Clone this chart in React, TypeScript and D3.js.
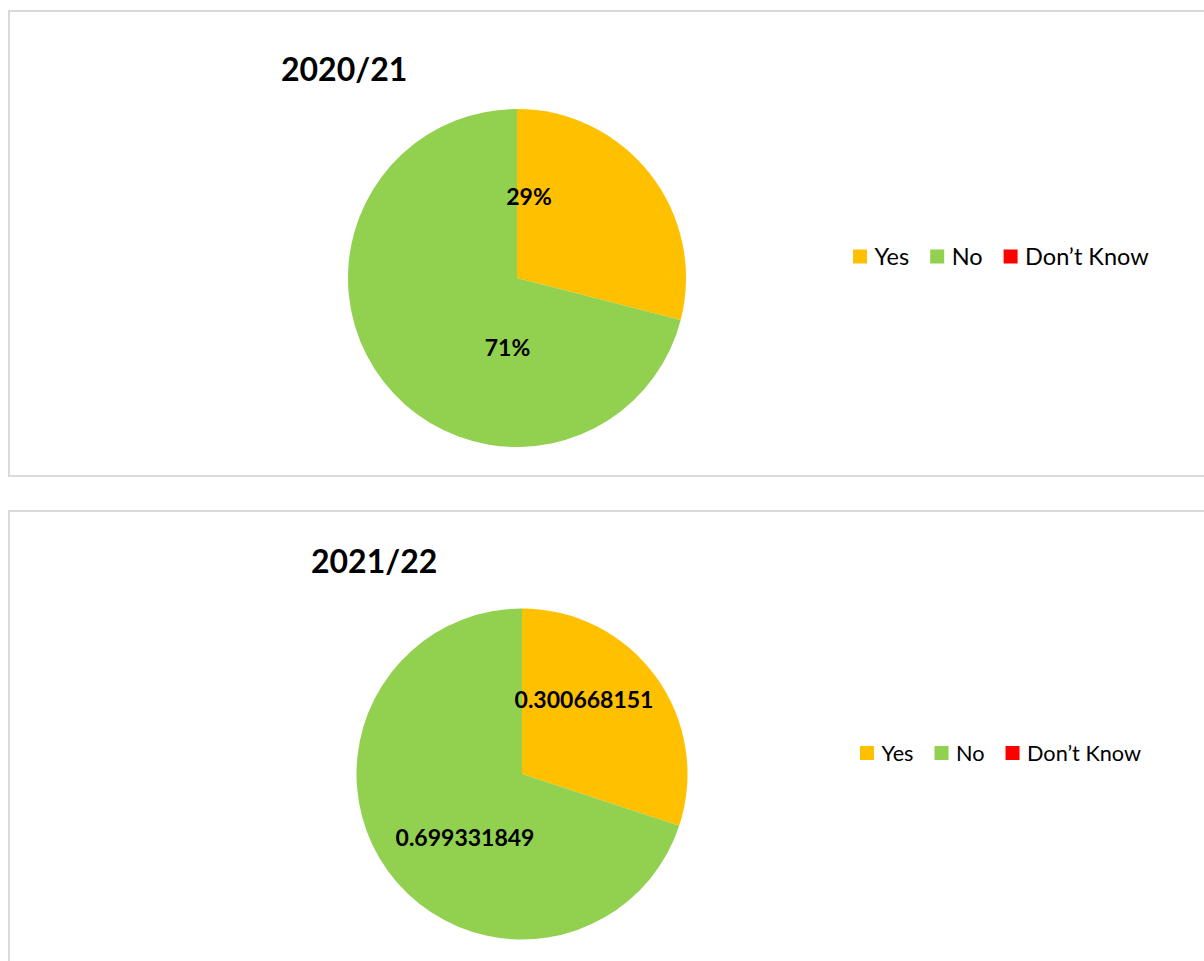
import React, { useEffect, useRef } from "react";
import * as d3 from "d3";

const categories = ["Yes", "No", "Don\u2019t Know"];
const colors = ["#FFC000", "#92D050", "#FF0000"];
const titles = ["2020/21", "2021/22"];
const values2020 = [0.29, 0.71, 0];
const values2021 = [0.300668151, 0.699331849, 0];
const labels2020 = ["29%", "71%"];
const labels2021 = ["0.300668151", "0.699331849"];

// layout only
const panels = [
  {
    values: values2020, labels: labels2020, title: titles[0],
    boxY: 11, boxH: 465, cx: 517, cy: 278, r: 169,
    titleX: 281, titleY: 69.5, titleSize: 32,
    labelOff: [[12, -81], [-9.5, 69.5]], labelSize: 23,
    legX: 853, legY: 256.5, legSize: 23.5, sq: 14,
  },
  {
    values: values2021, labels: labels2021, title: titles[1],
    boxY: 511, boxH: 600, cx: 522, cy: 774, r: 165.5,
    titleX: 311, titleY: 561, titleSize: 32,
    labelOff: [[62, -74], [-57, 63.5]], labelSize: 23,
    legX: 860, legY: 753, legSize: 21.7, sq: 14,
  },
];

export default function App() {
  const ref = useRef<SVGSVGElement>(null);
  useEffect(() => {
    const svg = d3.select(ref.current);
    svg.selectAll("*").remove();
    const pie = d3.pie<number>().sort(null).value((d) => d);
    panels.forEach((p) => {
      const g = svg.append("g");
      g.append("rect")
        .attr("x", 9).attr("y", p.boxY).attr("width", 1300).attr("height", p.boxH)
        .attr("fill", "#fff").attr("stroke", "#d9d9d9").attr("stroke-width", 2);
      g.append("text")
        .attr("x", p.titleX).attr("y", p.titleY).attr("dy", "0.36em")
        .attr("font-family", "Lato").attr("font-weight", 700)
        .attr("font-size", p.titleSize).attr("fill", "#000")
        .text(p.title);
      const arc = d3.arc<d3.PieArcDatum<number>>().innerRadius(0).outerRadius(p.r);
      const pg = g.append("g").attr("transform", `translate(${p.cx},${p.cy})`);
      const arcs = pie(p.values);
      pg.selectAll("path").data(arcs.filter((a) => a.value > 0)).join("path")
        .attr("d", arc as any)
        .attr("fill", (d) => colors[d.index]);
      p.labels.forEach((lab, i) => {
        pg.append("text")
          .attr("x", p.labelOff[i][0]).attr("y", p.labelOff[i][1]).attr("dy", "0.36em")
          .attr("text-anchor", "middle")
          .attr("font-family", "Lato").attr("font-weight", 700)
          .attr("font-size", p.labelSize).attr("fill", "#000")
          .text(lab);
      });
      let x = p.legX;
      categories.forEach((c, i) => {
        g.append("rect")
          .attr("x", x).attr("y", p.legY - p.sq / 2).attr("width", p.sq).attr("height", p.sq)
          .attr("fill", colors[i]);
        const t = g.append("text")
          .attr("x", x + p.sq + 7.5).attr("y", p.legY).attr("dy", "0.36em")
          .attr("font-family", "Lato").attr("font-size", p.legSize).attr("fill", "#000")
          .text(c);
        const w = (t.node() as SVGTextElement).getComputedTextLength();
        x = x + p.sq + 7.5 + w + 21;
      });
    });
  }, []);
  return (
    <svg ref={ref} width={1204} height={961}
      style={{ position: "absolute", left: 0, top: 0, background: "#fff" }} />
  );
}
